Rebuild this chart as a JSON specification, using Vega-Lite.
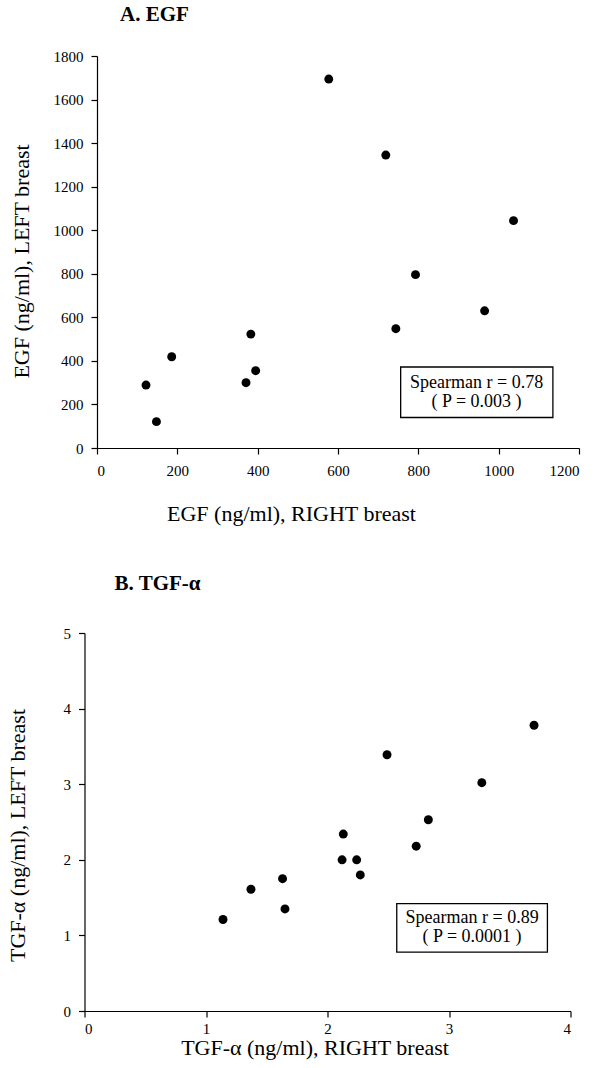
{
  "$schema": "https://vega.github.io/schema/vega-lite/v6.json",
  "background": "white",
  "padding": {"left": 6.5, "top": 4, "right": 4, "bottom": 4},
  "spacing": 49,
  "datasets": {
    "egf": [
      {"right": 577, "left": 1694},
      {"right": 719, "left": 1345},
      {"right": 1037, "left": 1044},
      {"right": 793, "left": 796},
      {"right": 965, "left": 630},
      {"right": 744, "left": 548},
      {"right": 383, "left": 523},
      {"right": 395, "left": 355},
      {"right": 371, "left": 300},
      {"right": 186, "left": 419},
      {"right": 122, "left": 289},
      {"right": 148, "left": 121}
    ],
    "tgf": [
      {"right": 3.70, "left": 3.78},
      {"right": 2.49, "left": 3.39},
      {"right": 3.27, "left": 3.02},
      {"right": 2.83, "left": 2.53},
      {"right": 2.13, "left": 2.34},
      {"right": 2.73, "left": 2.18},
      {"right": 2.12, "left": 2.00},
      {"right": 2.24, "left": 2.00},
      {"right": 2.27, "left": 1.80},
      {"right": 1.63, "left": 1.75},
      {"right": 1.37, "left": 1.61},
      {"right": 1.65, "left": 1.35},
      {"right": 1.14, "left": 1.21}
    ],
    "egfBox": [{"x1": 756, "x2": 1135, "y1": 140, "y2": 372}],
    "egfText": [
      {"x": 945, "y": 300, "label": "Spearman r = 0.78"},
      {"x": 945, "y": 210, "label": "( P = 0.003 )"}
    ],
    "tgfBox": [{"x1": 2.57, "x2": 3.81, "y1": 0.78, "y2": 1.42}],
    "tgfText": [
      {"x": 3.19, "y": 1.23, "label": "Spearman r = 0.89"},
      {"x": 3.19, "y": 0.98, "label": "( P = 0.0001 )"}
    ],
    "spacer": [{"k": 1}]
  },
  "config": {
    "view": {"stroke": null},
    "font": "Liberation Serif",
    "axis": {
      "grid": false,
      "domainColor": "black",
      "tickColor": "black",
      "labelColor": "black",
      "titleColor": "black",
      "labelFont": "Liberation Serif",
      "titleFont": "Liberation Serif",
      "labelFontSize": 15,
      "titleFontSize": 22,
      "titleFontWeight": "normal",
      "tickSize": 6,
      "labelPadding": 8,
      "domainWidth": 1.2,
      "tickWidth": 1.2,
      "format": "d"
    },
    "title": {"color": "black", "font": "Liberation Serif", "fontSize": 21, "fontWeight": "bold", "anchor": "start", "frame": "group"}
  },
  "vconcat": [
    {
      "spacing": -78.5,
      "hconcat": [
        {
          "width": 1,
          "height": 1,
          "data": {"name": "spacer"},
          "mark": {"type": "point", "opacity": 0},
          "encoding": {}
        },
        {
          "width": 482,
          "height": 392,
          "title": {"text": "A. EGF", "dx": 23, "offset": 24},
          "layer": [
            {
              "data": {"name": "egf"},
              "mark": {"type": "circle", "size": 80, "color": "black", "opacity": 1},
              "encoding": {
                "x": {"field": "right", "type": "quantitative", "scale": {"domain": [0, 1200], "nice": false},
                      "axis": {"values": [0, 200, 400, 600, 800, 1000, 1200], "title": "EGF (ng/ml), RIGHT breast", "titlePadding": 25, "titleX": 194, "labelPadding": 9}},
                "y": {"field": "left", "type": "quantitative", "scale": {"domain": [0, 1800], "nice": false},
                      "axis": {"values": [0, 200, 400, 600, 800, 1000, 1200, 1400, 1600, 1800], "title": "EGF (ng/ml), LEFT breast", "titlePadding": 20, "titleY": 205}}
              }
            },
            {
              "data": {"name": "egfBox"},
              "mark": {"type": "rect", "fill": "white", "stroke": "black", "strokeWidth": 1.3},
              "encoding": {
                "x": {"field": "x1", "type": "quantitative"},
                "x2": {"field": "x2"},
                "y": {"field": "y1", "type": "quantitative"},
                "y2": {"field": "y2"}
              }
            },
            {
              "data": {"name": "egfText"},
              "mark": {"type": "text", "font": "Liberation Serif", "fontSize": 18, "color": "black", "baseline": "middle", "align": "center"},
              "encoding": {
                "x": {"field": "x", "type": "quantitative"},
                "y": {"field": "y", "type": "quantitative"},
                "text": {"field": "label"}
              }
            }
          ]
        }
      ]
    },
    {
      "width": 486,
      "height": 378,
      "title": {"text": "B. TGF-α", "dx": 30, "offset": 32},
      "layer": [
        {
          "data": {"name": "tgf"},
          "mark": {"type": "circle", "size": 80, "color": "black", "opacity": 1},
          "encoding": {
            "x": {"field": "right", "type": "quantitative", "scale": {"domain": [0, 4], "nice": false},
                  "axis": {"values": [0, 1, 2, 3, 4], "title": "TGF-α (ng/ml), RIGHT breast", "titlePadding": 1, "titleX": 230, "labelPadding": 4}},
            "y": {"field": "left", "type": "quantitative", "scale": {"domain": [0, 5], "nice": false},
                  "axis": {"values": [0, 1, 2, 3, 4, 5], "title": "TGF-α (ng/ml), LEFT breast", "titlePadding": 33.5, "titleY": 202}}
          }
        },
        {
          "data": {"name": "tgfBox"},
          "mark": {"type": "rect", "fill": "white", "stroke": "black", "strokeWidth": 1.3},
          "encoding": {
            "x": {"field": "x1", "type": "quantitative"},
            "x2": {"field": "x2"},
            "y": {"field": "y1", "type": "quantitative"},
            "y2": {"field": "y2"}
          }
        },
        {
          "data": {"name": "tgfText"},
          "mark": {"type": "text", "font": "Liberation Serif", "fontSize": 18, "color": "black", "baseline": "middle", "align": "center"},
          "encoding": {
            "x": {"field": "x", "type": "quantitative"},
            "y": {"field": "y", "type": "quantitative"},
            "text": {"field": "label"}
          }
        }
      ]
    }
  ]
}
